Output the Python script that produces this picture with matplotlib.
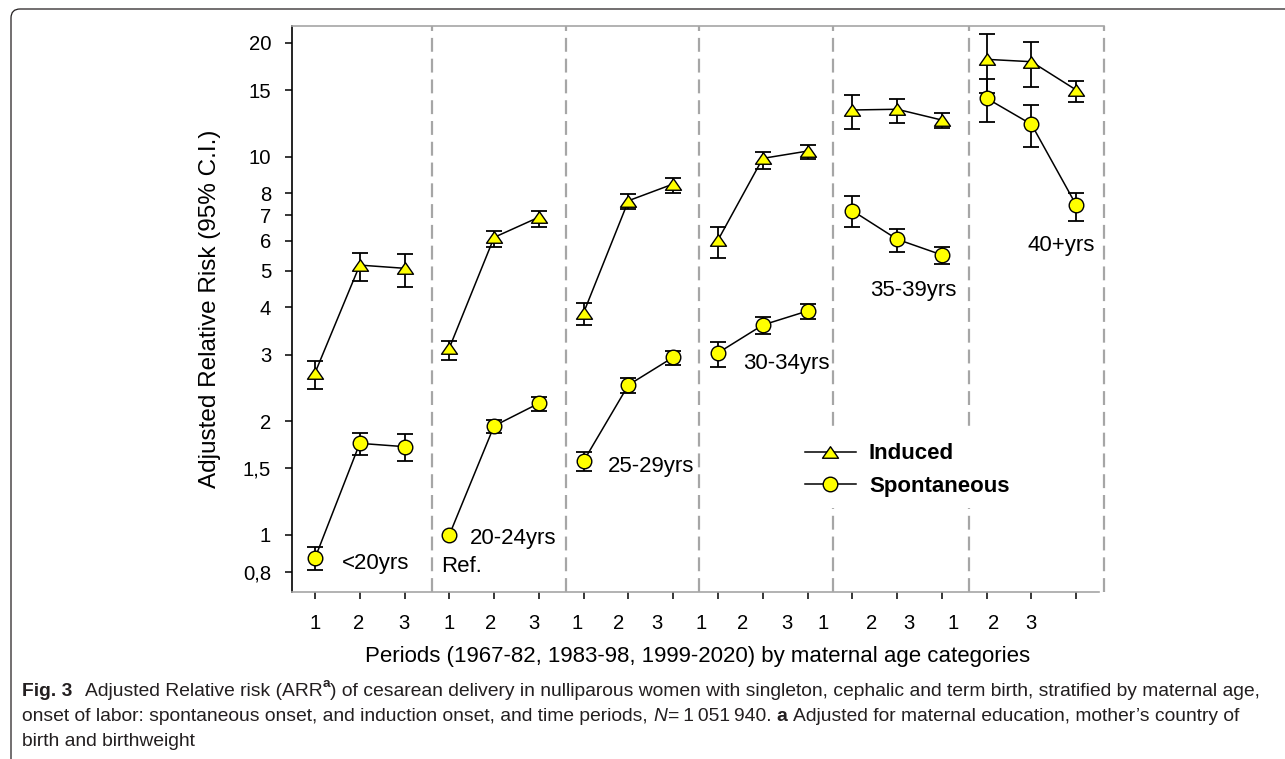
import numpy as np
import matplotlib
matplotlib.use('Agg')
import matplotlib.pyplot as plt
from matplotlib.path import Path
from matplotlib.lines import Line2D
from matplotlib.patches import FancyBboxPatch
from matplotlib.transforms import IdentityTransform
from matplotlib.ticker import NullLocator, NullFormatter

plt.rcParams['font.family'] = ['Liberation Sans', 'DejaVu Sans']

# ---------------- data ----------------
age_groups = ['<20yrs', '20-24yrs', '25-29yrs', '30-34yrs', '35-39yrs', '40+yrs']
period_labels = ['1', '2', '3']

induced_val = [2.68, 5.17, 5.07, 3.12, 6.12, 6.92, 3.87, 7.65, 8.47,
               6.02, 9.90, 10.35, 13.29, 13.35, 12.50, 18.09, 17.83, 15.01]
induced_lo = [2.43, 4.70, 4.53, 2.91, 5.78, 6.53, 3.59, 7.26, 8.03,
              5.40, 9.26, 9.88, 11.81, 12.30, 11.89, 14.72, 15.31, 13.98]
induced_hi = [2.89, 5.58, 5.53, 3.26, 6.36, 7.19, 4.10, 7.97, 8.77,
              6.51, 10.27, 10.74, 14.56, 14.21, 13.02, 21.10, 20.14, 15.85]

spont_val = [0.868, 1.747, 1.712, 1.00, 1.942, 2.229, 1.569, 2.492, 2.95,
             3.03, 3.59, 3.91, 7.20, 6.05, 5.50, 14.27, 12.18, 7.45]
spont_lo = [0.808, 1.627, 1.569, np.nan, 1.857, 2.131, 1.479, 2.369, 2.814,
            2.786, 3.40, 3.72, 6.53, 5.61, 5.20, 12.38, 10.59, 6.77]
spont_hi = [0.928, 1.865, 1.846, np.nan, 2.014, 2.321, 1.654, 2.605, 3.065,
            3.24, 3.76, 4.07, 7.89, 6.44, 5.76, 16.02, 13.70, 8.03]

yticks = [0.8, 1, 1.5, 2, 3, 4, 5, 6, 7, 8, 10, 15, 20]
ytick_labels = ['0,8', '1', '1,5', '2', '3', '4', '5', '6', '7', '8', '10', '15', '20']
xtick_texts = period_labels * 6
legend_labels = ['Induced', 'Spontaneous']
ref_label = 'Ref.'
xlabel = 'Periods (1967-82, 1983-98, 1999-2020) by maternal age categories'
ylabel = 'Adjusted Relative Risk (95% C.I.)'

# ---------------- layout / style ----------------
W, H = 1285, 759
fig = plt.figure(figsize=(W / 100, H / 100), dpi=100)
ax = fig.add_axes([292 / W, 167 / H, 812 / W, 566 / H])

n = len(induced_val)
x = np.arange(n)
iv, il, ih = map(np.array, (induced_val, induced_lo, induced_hi))
sv, sl_, sh = map(np.array, (spont_val, spont_lo, spont_hi))

ax.set_yscale('log')
ax.set_xlim(-0.513, 17.62)
ax.set_ylim(0.7068, 22.16)

# group separators
sep_color = '#a6a6a6'
for sx in [2.62, 5.60, 8.57, 11.57, 14.61, 17.62]:
    ax.axvline(sx, color=sep_color, lw=1.6, ls=(0, (6.25, 3.1)), zorder=1, clip_on=False)

tri = Path([(0, 0.72), (-1, -0.72), (1, -0.72), (0, 0.72)],
           [Path.MOVETO, Path.LINETO, Path.LINETO, Path.CLOSEPOLY])
yellow = '#ffff00'

for g in range(len(age_groups)):
    s = slice(3 * g, 3 * g + 3)
    ax.plot(x[s], iv[s], color='k', lw=1.1, zorder=3)
    ax.plot(x[s], sv[s], color='k', lw=1.1, zorder=3)

for v, lo, hi in ((iv, il, ih), (sv, sl_, sh)):
    m = np.isfinite(lo)
    ax.errorbar(x[m], v[m], yerr=[v[m] - lo[m], hi[m] - v[m]], fmt='none',
                ecolor='k', elinewidth=1.3, capsize=5.5, capthick=1.3, zorder=4)

ax.plot(x, iv, ls='none', marker=tri, ms=11.5, mfc=yellow, mec='k', mew=1.0, zorder=5)
ax.plot(x, sv, ls='none', marker='o', ms=10.5, mfc=yellow, mec='k', mew=1.0, zorder=5)

# spines
ax.spines['right'].set_visible(False)
ax.spines['top'].set_color(sep_color)
ax.spines['top'].set_linewidth(1.2)
ax.spines['bottom'].set_color(sep_color)
ax.spines['bottom'].set_linewidth(1.2)
ax.spines['bottom'].set_bounds(-0.513, 17.5)
ax.spines['left'].set_color('k')
ax.spines['left'].set_linewidth(1.2)

# y ticks
ax.set_yticks(yticks)
ax.set_yticklabels(ytick_labels)
ax.yaxis.set_minor_locator(NullLocator())
ax.yaxis.set_minor_formatter(NullFormatter())
ax.tick_params(axis='y', which='major', length=5, width=1.1, pad=10.0,
               labelsize=14.6, direction='out', colors='k')

# x ticks (marks at each point; label row drawn separately, as in the original)
ax.set_xticks(x)
ax.set_xticklabels([])
ax.tick_params(axis='x', which='major', length=5, width=1.1, direction='out')
xlabel_pos = [0, 0.982, 1.993, 2.991, 3.922, 4.895, 5.864, 6.792, 7.641,
              8.632, 9.547, 10.529, 11.346, 12.426, 13.266, 14.248, 15.156, 15.998]
for pos, lab in zip(xlabel_pos, xtick_texts):
    ax.text(pos, -0.0548, lab, transform=ax.get_xaxis_transform(),
            ha='center', va='center', fontsize=14.6)

# group labels
group_pos = [(0.596, 0.842), (3.46, 0.98), (6.547, 1.516),
             (9.56, 2.844), (12.40, 4.425), (15.92, 5.81)]
for (gx, gy), lab in zip(group_pos, age_groups):
    ax.text(gx, gy, lab, ha='left', va='center', fontsize=16)
ax.text(2.828, 0.824, ref_label, ha='left', va='center', fontsize=16)

# axis labels
ax.set_xlabel(xlabel, fontsize=16, va='center')
ax.xaxis.set_label_coords(0.5, -0.1148)
ax.set_ylabel(ylabel, fontsize=17.5, va='center')
ax.yaxis.set_label_coords(-0.101, 0.5)

# legend
handles = [Line2D([], [], color='k', lw=1.1, marker=tri, ms=11.5, mfc=yellow, mec='k', mew=1.0),
           Line2D([], [], color='k', lw=1.1, marker='o', ms=10.5, mfc=yellow, mec='k', mew=1.0)]
leg = ax.legend(handles, legend_labels, loc='center', bbox_to_anchor=(907 / W, 1 - 470 / H),
                bbox_transform=fig.transFigure, frameon=True, facecolor='white',
                edgecolor='none', framealpha=1, fancybox=False,
                prop={'weight': 'bold', 'size': 16}, handlelength=2.3,
                handletextpad=0.6, labelspacing=0.5, borderpad=0.5)
leg.set_zorder(6)

# outer frame (rounded box, partially outside canvas)
frame = FancyBboxPatch((11, -60), W + 100, 750 + 60 - 0,
                       boxstyle='round,pad=0,rounding_size=9',
                       transform=IdentityTransform(), facecolor='none',
                       edgecolor='#231f20', lw=0.9)
fig.patches.append(frame)

# caption
cap_family = ['Liberation Sans Narrow', 'Liberation Sans', 'DejaVu Sans']
cap_color = '#231f20'
renderer = fig.canvas.get_renderer()

caption_lines = [
    [('Fig. 3', 'bold', 'normal', False, 0.0),
     ('Adjusted Relative risk (ARR', 'normal', 'normal', False, 2.4),
     ('a', 'bold', 'normal', True, 0.0),
     (') of cesarean delivery in nulliparous women with singleton, cephalic and term birth, stratified by maternal age,',
      'normal', 'normal', False, 0.0)],
    [('onset of labor: spontaneous onset, and induction onset, and time periods,', 'normal', 'normal', False, 0.0),
     ('N', 'normal', 'italic', False, 1.0),
     ('=\u20091\u2009051\u2009940.', 'normal', 'normal', False, 0.2),
     ('a', 'bold', 'normal', False, 1.0),
     ('Adjusted for maternal education, mother\u2019s country of', 'normal', 'normal', False, 1.0)],
    [('birth and birthweight', 'normal', 'normal', False, 0.0)],
]
baselines = [696, 721, 746]


def text_width(s, size, weight='normal', style='normal'):
    t = fig.text(0, 0, s, fontsize=size, fontweight=weight, fontstyle=style, family=cap_family)
    w = t.get_window_extent(renderer).width
    t.remove()
    return w


def draw_line(runs, x0, ybase, size):
    sp = text_width('n n', size) - text_width('nn', size)
    xx = x0
    arts = []
    for txt, weight, style, sup, nsp in runs:
        xx += nsp * sp
        fs = size * 0.7 if sup else size
        dy = size * 0.45 * 100 / 72 if sup else 0
        t = fig.text(xx / W, (H - ybase + dy) / H, txt, fontsize=fs, fontweight=weight,
                     fontstyle=style, family=cap_family, color=cap_color,
                     ha='left', va='baseline')
        bb = t.get_window_extent(renderer)
        xx = bb.x1
        arts.append(t)
    return arts, xx


base = 14.0
arts, end = draw_line(caption_lines[0], 22, baselines[0], base)
for a in arts:
    a.remove()
cap_size = base * (1268 - 22) / (end - 22)
for runs, yb in zip(caption_lines, baselines):
    draw_line(runs, 22, yb, cap_size)

fig.savefig('out.png', dpi=100)
